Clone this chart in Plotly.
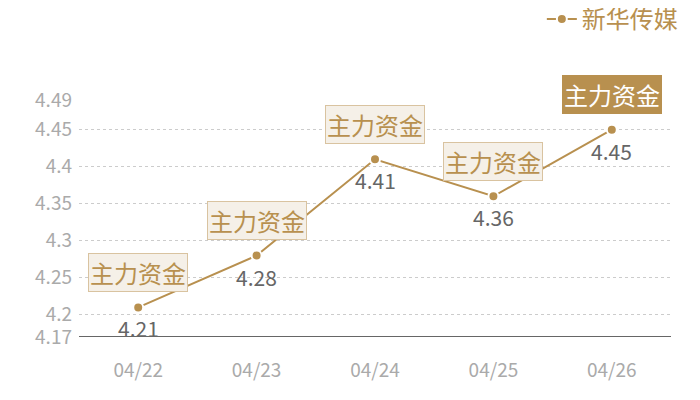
import plotly.graph_objects as go

# 数据
dates = ["04/22", "04/23", "04/24", "04/25", "04/26"]
prices = [4.21, 4.28, 4.41, 4.36, 4.45]
tag_text = ["主力资金", "主力资金", "主力资金", "主力资金", "主力资金"]
y_ticks = [4.17, 4.2, 4.25, 4.3, 4.35, 4.4, 4.45, 4.49]
y_tick_labels = ["4.17", "4.2", "4.25", "4.3", "4.35", "4.4", "4.45", "4.49"]
series_name = "新华传媒"

GOLD = "#b8904f"
FONT = "Noto Sans CJK SC"

fig = go.Figure()
fig.add_trace(
    go.Scatter(
        x=dates,
        y=prices,
        mode="lines+markers",
        name=series_name,
        line=dict(color=GOLD, width=2),
        marker=dict(color=GOLD, size=10, line=dict(color="white", width=2)),
        cliponaxis=False,
    )
)

for i, (d, v, t) in enumerate(zip(dates, prices, tag_text)):
    # 数值标签
    fig.add_annotation(
        x=d,
        y=v,
        text=f"{v:.2f}",
        showarrow=False,
        yshift=-21,
        font=dict(color="#666666", size=21, family=FONT),
    )
    # 主力资金标签，最后一个高亮
    last = i == len(dates) - 1
    fig.add_annotation(
        x=d,
        y=v,
        text=t,
        showarrow=False,
        yshift=35,
        font=dict(color="white" if last else GOLD, size=24, family=FONT),
        bgcolor=GOLD if last else "#f5f0e8",
        bordercolor=GOLD if last else "#d9c3a0",
        borderwidth=1,
        borderpad=1,
    )

fig.update_layout(
    width=700,
    height=400,
    margin=dict(l=71, r=37, t=92, b=71, autoexpand=False),
    plot_bgcolor="white",
    paper_bgcolor="white",
    font=dict(family=FONT),
    showlegend=True,
    legend=dict(
        x=1.02,
        xanchor="right",
        y=1.34,
        yanchor="middle",
        orientation="h",
        font=dict(color=GOLD, size=24, family=FONT),
        itemwidth=30,
    ),
    xaxis=dict(
        range=[-0.5, 4.5],
        showgrid=False,
        showline=False,
        zeroline=False,
        ticks="",
        automargin=False,
        tickfont=dict(color="#aaaaaa", size=19, family=FONT),
        ticklabelstandoff=20,
    ),
    yaxis=dict(
        range=[4.17, 4.49],
        tickvals=y_ticks,
        ticktext=y_tick_labels,
        showgrid=True,
        gridcolor="#cccccc",
        griddash="dot",
        gridwidth=1,
        zeroline=False,
        showline=False,
        ticks="",
        automargin=False,
        ticklabelstandoff=6,
        tickfont=dict(color="#aaaaaa", size=19, family=FONT),
    ),
)
fig.add_hline(y=4.17, line=dict(color="#333333", width=1.5), layer="below")

fig.write_html("out.html")
